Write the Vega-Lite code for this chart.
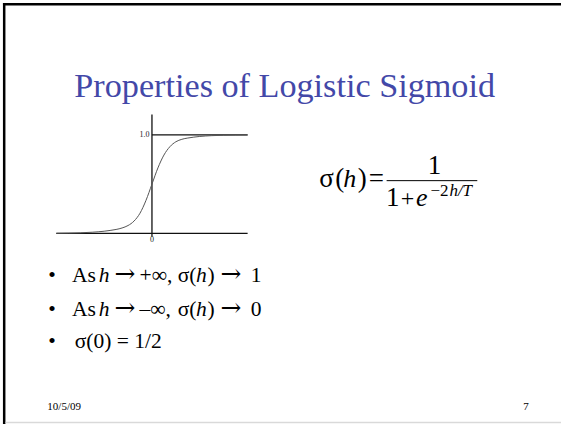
{
  "$schema": "https://vega.github.io/schema/vega-lite/v6.json",
  "width": 563,
  "height": 426,
  "padding": 0,
  "autosize": {"type": "fit", "contains": "padding"},
  "background": "white",
  "config": {"view": {"stroke": null}},
  "encoding": {
    "x": {"field": "x", "type": "quantitative", "axis": null, "scale": {"domain": [-6.3542, 17.1042], "zero": false, "nice": false}},
    "y": {"field": "y", "type": "quantitative", "axis": null, "scale": {"domain": [-1.9343, 2.3687], "zero": false, "nice": false}}
  },
  "layer": [
    {
      "data": {"values": [
        {"x": -6.179, "x2": -6.179, "y": -1.9343, "y2": 2.339},
        {"x": -6.23, "x2": 17.1042, "y": 2.3263, "y2": 2.3263}
      ]},
      "mark": {"type": "rule", "color": "black", "strokeWidth": 2.5},
      "encoding": {"x2": {"field": "x2"}, "y2": {"field": "y2"}}
    },
    {
      "data": {"values": [
        {"x": -6.12, "x2": 17.1042, "y": -1.9192, "y2": -1.9192}
      ]},
      "mark": {"type": "rule", "color": "#d9d9d9", "strokeWidth": 1.5},
      "encoding": {"x2": {"field": "x2"}, "y2": {"field": "y2"}}
    },
    {
      "data": {"values": [
        {"x": -4, "x2": 4, "y": 0, "y2": 0},
        {"x": 0, "x2": 0, "y": -0.035, "y2": 1.207},
        {"x": 0, "x2": 4, "y": 1, "y2": 1}
      ]},
      "mark": {"type": "rule", "color": "#111111", "strokeWidth": 1.3},
      "encoding": {"x2": {"field": "x2"}, "y2": {"field": "y2"}}
    },
    {
      "data": {"values": [
        {"x": -4, "y": 0.001}, {"x": -3.5, "y": 0.003}, {"x": -3, "y": 0.006},
        {"x": -2.5, "y": 0.012}, {"x": -2, "y": 0.022}, {"x": -1.75, "y": 0.03},
        {"x": -1.5, "y": 0.04}, {"x": -1.25, "y": 0.055}, {"x": -1, "y": 0.08},
        {"x": -0.75, "y": 0.125}, {"x": -0.5, "y": 0.205}, {"x": -0.25, "y": 0.335},
        {"x": 0, "y": 0.5}, {"x": 0.25, "y": 0.665}, {"x": 0.5, "y": 0.795},
        {"x": 0.75, "y": 0.88}, {"x": 1, "y": 0.93}, {"x": 1.25, "y": 0.955},
        {"x": 1.5, "y": 0.968}, {"x": 1.75, "y": 0.977}, {"x": 2, "y": 0.984},
        {"x": 2.5, "y": 0.992}, {"x": 3, "y": 0.996}, {"x": 3.5, "y": 0.998},
        {"x": 4, "y": 0.999}
      ]},
      "mark": {"type": "line", "color": "#555555", "strokeWidth": 1, "interpolate": "monotone"},
      "encoding": {}
    },
    {
      "data": {"values": [
        {"x": 9.8125, "x2": 13.604, "y": 0.5354, "y2": 0.5354}
      ]},
      "mark": {"type": "rule", "color": "black", "strokeWidth": 1},
      "encoding": {"x2": {"field": "x2"}, "y2": {"field": "y2"}}
    },
    {
      "data": {"values": [
        {"x": 5.55, "y": 1.3889, "text": "Properties of Logistic Sigmoid"}
      ]},
      "mark": {"type": "text", "font": "Liberation Serif", "fontSize": 34.2, "color": "#4348A8", "align": "center", "baseline": "alphabetic"},
      "encoding": {"text": {"field": "text"}}
    },
    {
      "data": {"values": [
        {"x": -4.3417, "y": -0.497, "text": "•"},
        {"x": -4.3417, "y": -0.8333, "text": "•"},
        {"x": -4.3417, "y": -1.1596, "text": "•"},
        {"x": -3.3417, "y": -0.497, "text": "As"},
        {"x": -0.5208, "y": -0.497, "text": "+∞,"},
        {"x": 1.075, "y": -0.497, "text": "σ("},
        {"x": 2.325, "y": -0.497, "text": ")"},
        {"x": 4.1333, "y": -0.497, "text": "1"},
        {"x": -3.3417, "y": -0.8333, "text": "As"},
        {"x": -0.5208, "y": -0.8333, "text": "–∞,"},
        {"x": 1.075, "y": -0.8333, "text": "σ("},
        {"x": 2.325, "y": -0.8333, "text": ")"},
        {"x": 4.1333, "y": -0.8333, "text": "0"},
        {"x": -3.2292, "y": -1.1596, "text": "σ(0) = 1/2"}
      ]},
      "mark": {"type": "text", "font": "Liberation Serif", "fontSize": 21.5, "color": "black", "align": "left", "baseline": "alphabetic"},
      "encoding": {"text": {"field": "text"}}
    },
    {
      "data": {"values": [
        {"x": -2.2292, "y": -0.497, "text": "h"},
        {"x": 1.8417, "y": -0.497, "text": "h"},
        {"x": -2.2292, "y": -0.8333, "text": "h"},
        {"x": 1.8417, "y": -0.8333, "text": "h"}
      ]},
      "mark": {"type": "text", "font": "Liberation Serif", "fontStyle": "italic", "fontSize": 21.5, "color": "black", "align": "left", "baseline": "alphabetic"},
      "encoding": {"text": {"field": "text"}}
    },
    {
      "data": {"values": [
        {"x": -1.125, "y": -0.497, "text": "→"},
        {"x": 3.3, "y": -0.497, "text": "→"},
        {"x": -1.125, "y": -0.8333, "text": "→"},
        {"x": 3.3, "y": -0.8333, "text": "→"}
      ]},
      "mark": {"type": "text", "font": "DejaVu Serif", "fontSize": 25, "color": "black", "align": "center", "baseline": "alphabetic"},
      "encoding": {"text": {"field": "text"}}
    },
    {
      "data": {"values": [
        {"x": 7.0, "y": 0.4697, "text": "σ"},
        {"x": 7.6667, "y": 0.4697, "text": "("},
        {"x": 8.6042, "y": 0.4697, "text": ")"},
        {"x": 9.0625, "y": 0.4697, "text": "="},
        {"x": 9.7917, "y": 0.2828, "text": "1"}
      ]},
      "mark": {"type": "text", "font": "Liberation Serif", "fontSize": 27, "color": "black", "align": "left", "baseline": "alphabetic"},
      "encoding": {"text": {"field": "text"}}
    },
    {
      "data": {"values": [
        {"x": 11.8125, "y": 0.601, "text": "1"}
      ]},
      "mark": {"type": "text", "font": "Liberation Serif", "fontSize": 27, "color": "black", "align": "center", "baseline": "alphabetic"},
      "encoding": {"text": {"field": "text"}}
    },
    {
      "data": {"values": [
        {"x": 10.6875, "y": 0.2828, "text": "+"}
      ]},
      "mark": {"type": "text", "font": "Liberation Serif", "fontSize": 24, "color": "black", "align": "center", "baseline": "alphabetic"},
      "encoding": {"text": {"field": "text"}}
    },
    {
      "data": {"values": [
        {"x": 8.0, "y": 0.4697, "text": "h"},
        {"x": 11.0417, "y": 0.2828, "text": "e"}
      ]},
      "mark": {"type": "text", "font": "Liberation Serif", "fontStyle": "italic", "fontSize": 26, "color": "black", "align": "left", "baseline": "alphabetic"},
      "encoding": {"text": {"field": "text"}}
    },
    {
      "data": {"values": [
        {"x": 11.6458, "y": 0.3788, "text": "−2"}
      ]},
      "mark": {"type": "text", "font": "Liberation Serif", "fontSize": 17, "color": "black", "align": "left", "baseline": "alphabetic"},
      "encoding": {"text": {"field": "text"}}
    },
    {
      "data": {"values": [
        {"x": 12.4375, "y": 0.3788, "text": "h/T"}
      ]},
      "mark": {"type": "text", "font": "Liberation Serif", "fontStyle": "italic", "fontSize": 17, "color": "black", "align": "left", "baseline": "alphabetic"},
      "encoding": {"text": {"field": "text"}}
    },
    {
      "data": {"values": [
        {"x": -0.104, "y": 0.975, "text": "1.0"}
      ]},
      "mark": {"type": "text", "font": "Liberation Serif", "fontSize": 8, "color": "#222222", "align": "right", "baseline": "alphabetic"},
      "encoding": {"text": {"field": "text"}}
    },
    {
      "data": {"values": [
        {"x": 0, "y": -0.0859, "text": "0"}
      ]},
      "mark": {"type": "text", "font": "Liberation Serif", "fontSize": 8, "color": "#222222", "align": "center", "baseline": "alphabetic"},
      "encoding": {"text": {"field": "text"}}
    },
    {
      "data": {"values": [
        {"x": -4.375, "y": -1.7929, "text": "10/5/09"}
      ]},
      "mark": {"type": "text", "font": "Liberation Serif", "fontSize": 11, "color": "black", "align": "left", "baseline": "alphabetic"},
      "encoding": {"text": {"field": "text"}}
    },
    {
      "data": {"values": [
        {"x": 15.6458, "y": -1.7929, "text": "7"}
      ]},
      "mark": {"type": "text", "font": "Liberation Serif", "fontSize": 11, "color": "black", "align": "center", "baseline": "alphabetic"},
      "encoding": {"text": {"field": "text"}}
    }
  ]
}
